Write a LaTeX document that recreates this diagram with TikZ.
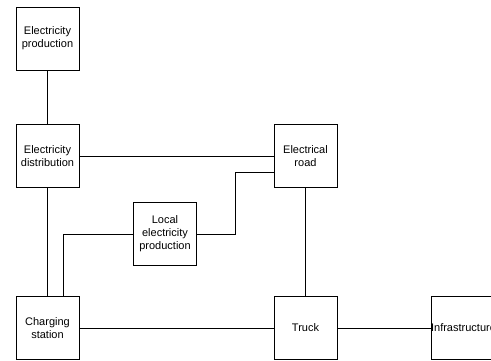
\documentclass[tikz,border=0pt]{standalone}
\usepackage{fontspec}
\setmainfont{Liberation Sans}
\begin{document}
\begin{tikzpicture}[x=1pt,y=-1pt,
    block/.style={draw,line width=0.8pt,minimum width=63pt,minimum height=63pt,align=center,inner xsep=0pt,
        font=\fontsize{11}{13}\selectfont},
    link/.style={line width=0.8pt}]
    \useasboundingbox (0,0) rectangle (491,360);
    \clip (0,0) rectangle (491,360);
    \node[block] (prod) at (47.5,38.5) {Electricity\\production};
    \node[block] (dist) at (47.5,156) {Electricity\\distribution};
    \node[block] (road) at (305.5,156) {Electrical\\road};
    \node[block] (local) at (165,234) {Local\\electricity\\production};
    \node[block] (charge) at (47.5,328) {Charging\\station};
    \node[block] (truck) at (305.5,328) {Truck};
    \node[block] (infra) at (463.5,328) {Infrastructure};
    \draw[link] (prod) to (dist);
    \draw[link] (dist) to (road);
    \draw[link] (dist) to (charge);
    \draw[link] (local.east) -- ++(38.7,0) |- ([yshift=-16pt]road.west);
    \draw[link] (local.west) -| ([xshift=16pt]charge.north);
    \draw[link] (road) to (truck);
    \draw[link] (charge) to (truck);
    \draw[link] (truck) to (infra);
\end{tikzpicture}
\end{document}
